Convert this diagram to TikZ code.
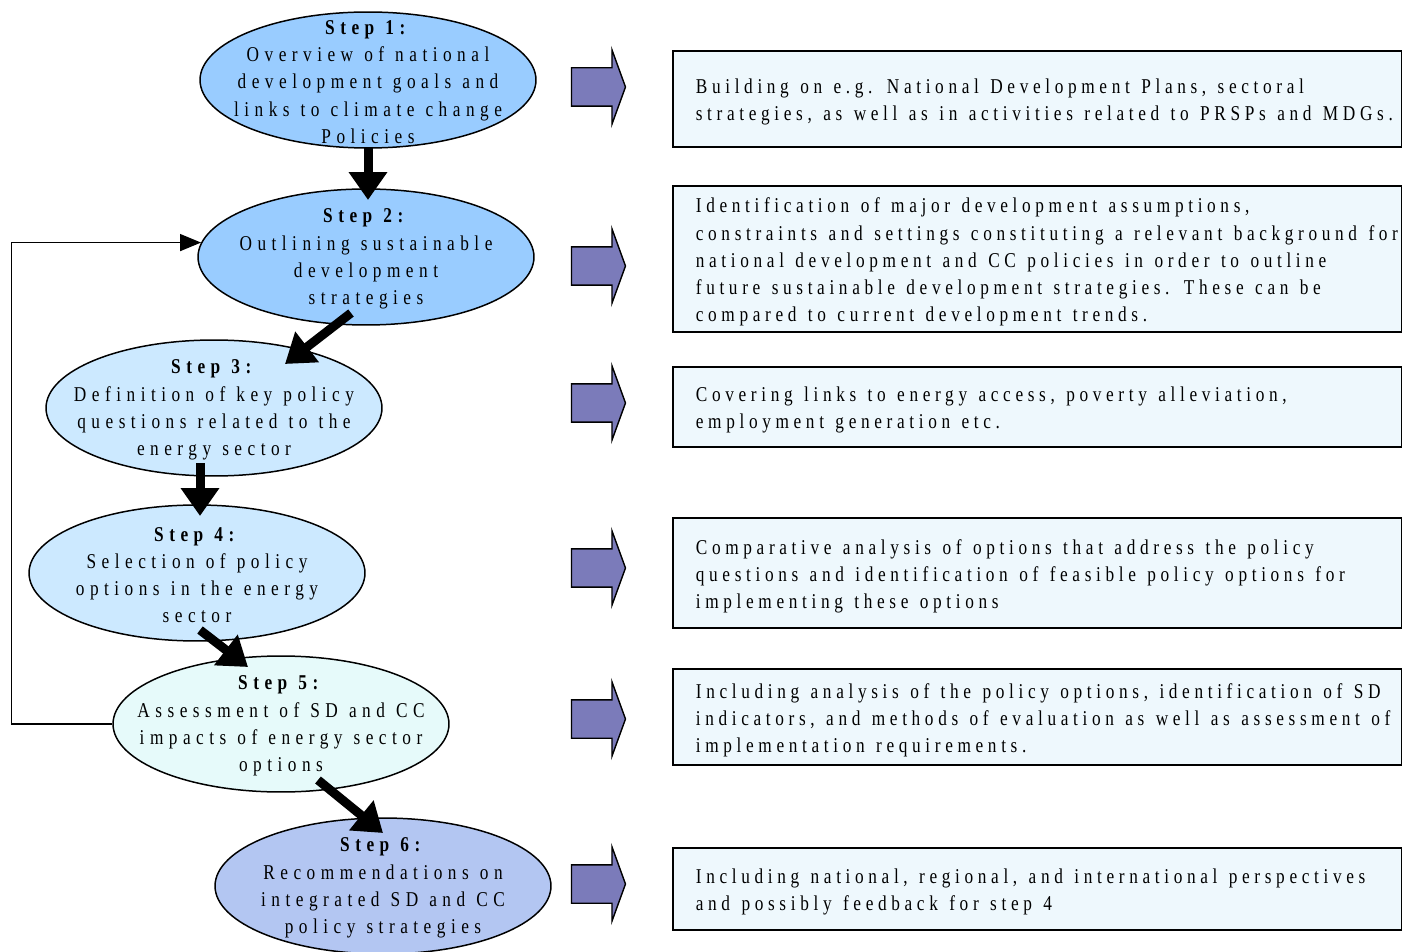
\documentclass[tikz,border=0pt]{standalone}
\usepackage{fontspec}
\setmainfont{Liberation Serif}[FakeStretch=0.82,LetterSpace=22]
\newfontfamily\stagefamily{Liberation Serif}[FakeStretch=0.82,LetterSpace=26]
\usetikzlibrary{arrows.meta,shapes.geometric,shapes.arrows,calc}
\definecolor{toneA}{HTML}{99CCFF}
\definecolor{toneB}{HTML}{CCE9FF}
\definecolor{toneC}{HTML}{E6FAFA}
\definecolor{toneD}{HTML}{B3C6F2}
\definecolor{blkfill}{HTML}{7B7BBA}
\definecolor{notefill}{HTML}{EEF8FD}
\tikzstyle{stage}=[ellipse, draw, line width=0.85pt, minimum width=6.72cm, minimum height=2.72cm, inner sep=0pt]
\tikzstyle{stagetxt}=[align=center, inner sep=0pt, yshift=-0.04cm, font=\stagefamily\fontsize{12}{15.5}\selectfont, execute at begin node={\spaceskip=6.3pt\relax}]
\tikzstyle{note}=[rectangle, draw, line width=1pt, fill=notefill, anchor=west, text width=13.66cm, inner xsep=0.46cm, align=flush left, font=\fontsize{12}{15.5}\selectfont, execute at begin node={\spaceskip=6.5pt\relax\rightskip=0pt plus 1fil minus 3cm\relax\rule{0pt}{12pt}\ignorespaces}]
\tikzstyle{blk}=[single arrow, draw, fill=blkfill, line width=0.8pt, inner xsep=0pt, inner ysep=0.37cm, minimum height=1.08cm, single arrow head extend=0.36cm, single arrow tip angle=140]
\tikzstyle{flow}=[line width=0.18cm, -{Triangle[length=0.56cm,width=0.74cm]}]
\tikzstyle{back}=[line width=0.85pt, -{Triangle[length=0.42cm,width=0.34cm]}]
\begin{document}
\begin{tikzpicture}[x=0.02cm, y=-0.02cm]
	\useasboundingbox (0,0) rectangle (1402,952);
	\draw (368,80) node[stage, fill=toneA] (s1) {};
	\draw (366,257) node[stage, fill=toneA] (s2) {};
	\draw (214,408) node[stage, fill=toneB] (s3) {};
	\draw (197,573) node[stage, fill=toneB] (s4) {};
	\draw (281,724) node[stage, fill=toneC] (s5) {};
	\draw (383,886) node[stage, fill=toneD] (s6) {};
	\draw (s1.center) node[stagetxt] (t1) {\textbf{Step 1:}\\Overview of national\\development goals and\\links to climate change\\Policies};
	\draw (s2.center) node[stagetxt] (t2) {\textbf{Step 2:}\\Outlining sustainable\\development\\strategies};
	\draw (s3.center) node[stagetxt] (t3) {\textbf{Step 3:}\\Definition of key policy\\questions related to the\\energy sector};
	\draw (s4.center) node[stagetxt] (t4) {\textbf{Step 4:}\\Selection of policy\\options in the energy\\sector};
	\draw (s5.center) node[stagetxt] (t5) {\textbf{Step 5:}\\Assessment of SD and CC\\impacts of energy sector\\options};
	\draw (s6.center) node[stagetxt] (t6) {\textbf{Step 6:}\\Recommendations on\\integrated SD and CC\\policy strategies};
	\draw[flow] ($(s1.center)+(0,67)$) -- ($(s2.center)+(2,-57)$);
	\draw[flow] ($(s2.center)+(-15,56)$) -- ($(s3.center)+(71,-44)$);
	\draw[flow] ($(s3.center)+(-14,55)$) -- ($(s4.center)+(3,-57)$);
	\draw[flow] ($(s4.center)+(3,57)$) -- ($(s5.center)+(-33,-57)$);
	\draw[flow] ($(s5.center)+(37,56)$) -- ($(s6.center)+(0,-53)$);
	\draw[back] (s5.west) -- ++(-101,0) |- (s2.175);
	\draw (595,87) node[blk] (a1) {};
	\draw (595,266) node[blk] (a2) {};
	\draw (595,403) node[blk] (a3) {};
	\draw (595,568) node[blk] (a4) {};
	\draw (595,719) node[blk] (a5) {};
	\draw (595,884) node[blk] (a6) {};
	\draw (672,99) node[note, minimum height=1.92cm] (n1) {Building on e.g. National Development Plans, sectoral\\strategies, as well as in activities related to PRSPs and MDGs.};
	\draw (672,259) node[note, minimum height=2.84cm] (n2) {Identification of major development assumptions,\\constraints and settings constituting a relevant background for\\national development and CC policies in order to outline\\future sustainable development strategies. These can be\\compared to current development trends.};
	\draw (672,407) node[note, minimum height=1.6cm] (n3) {Covering links to energy access, poverty alleviation,\\employment generation etc.};
	\draw (672,573) node[note, minimum height=2.2cm] (n4) {Comparative analysis of options that address the policy\\questions and identification of feasible policy options for\\implementing these options};
	\draw (672,717) node[note, minimum height=1.92cm] (n5) {Including analysis of the policy options, identification of SD\\indicators, and methods of evaluation as well as assessment of\\implementation requirements.};
	\draw (672,889) node[note, minimum height=1.64cm] (n6) {Including national, regional, and international perspectives\\and possibly feedback for step 4};
\end{tikzpicture}
\end{document}
